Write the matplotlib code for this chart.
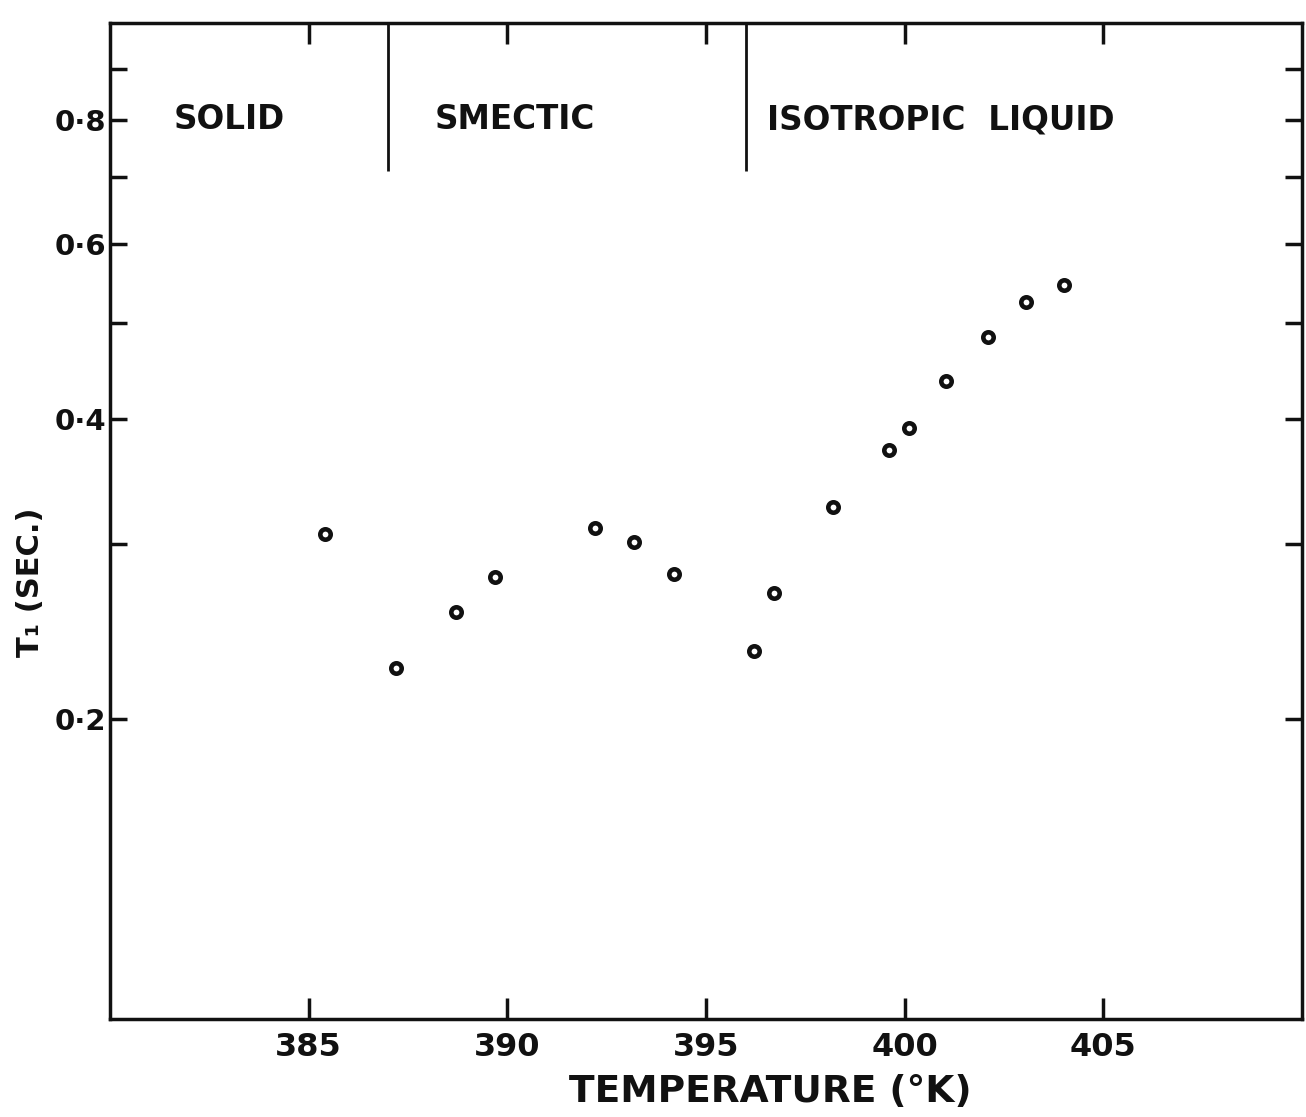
import numpy as np
import matplotlib
matplotlib.use("Agg")
import matplotlib.pyplot as plt
from matplotlib.ticker import NullFormatter, FixedLocator


# datos (temperatura en K, T1 en segundos)
temp_K = [385.4, 387.2, 388.7, 389.7, 392.2, 393.2, 394.2, 396.2, 396.7,
          398.2, 399.6, 400.1, 401.05, 402.1, 403.05, 404.0]
t1_sec = [0.307, 0.225, 0.256, 0.278, 0.311, 0.301, 0.280, 0.234, 0.268,
          0.327, 0.373, 0.392, 0.437, 0.484, 0.525, 0.546]

# limites de fase
fases_x = [387.0, 396.0]
fases_nombres = ["SOLID", "SMECTIC", "ISOTROPIC  LIQUID"]
fases_pos = [383.0, 390.2, 400.9]

x_ticks = [385, 390, 395, 400, 405]
y_ticks = [0.2, 0.4, 0.6, 0.8]
y_ticks_lab = ["0·2", "0·4", "0·6", "0·8"]
y_minor = [0.3, 0.5, 0.7, 0.9]

ink = "#111111"
plt.rcParams['font.family'] = ['DejaVu Sans']

fig = plt.figure(figsize=(13.06, 11.17), dpi=100)
ax = fig.add_axes([110 / 1306, 1 - 1019 / 1117, 1192 / 1306, 996 / 1117])

ax.plot(temp_K, t1_sec, 'o', ms=7.5, mfc='white', mec=ink, mew=3.3, zorder=3)

ax.set_yscale('log')
ax.set_xlim(380, 410)
ax.set_ylim(0.1, 1.0)

# lineas verticales de las fases (solo arriba)
ax.vlines(fases_x, 0.71, 1.0, color=ink, lw=2.0)
for nom, xp in zip(fases_nombres, fases_pos):
    ax.text(xp, 0.80, nom, ha='center', va='center', fontsize=23.5,
            fontweight='bold', color=ink)

ax.set_xticks(x_ticks)
ax.set_xticklabels([str(v) for v in x_ticks])
ax.yaxis.set_major_locator(FixedLocator(y_ticks))
ax.set_yticklabels(y_ticks_lab)
ax.yaxis.set_minor_locator(FixedLocator(y_minor))
ax.yaxis.set_minor_formatter(NullFormatter())
ax.xaxis.set_minor_locator(FixedLocator([]))

ax.tick_params(axis='both', which='both', direction='in', colors=ink,
               width=2.5)
ax.tick_params(axis='x', top=True, pad=9, length=15, labelsize=23)
ax.tick_params(axis='y', which='both', right=True, pad=3, length=12,
               labelsize=21)
for lab in ax.get_xticklabels() + ax.get_yticklabels():
    lab.set_fontweight('bold')

for sp in ax.spines.values():
    sp.set_linewidth(2.5)
    sp.set_color(ink)

fig.text(770 / 1306, 1 - 1092 / 1117, "TEMPERATURE (°K)", ha='center',
         va='center', fontsize=27, fontweight='bold', color=ink)
fig.text(31 / 1306, 1 - 582 / 1117, "T₁ (SEC.)", ha='center', va='center',
         rotation=90, fontsize=22, fontweight='bold', color=ink)

fig.savefig("out.png", dpi=100)
